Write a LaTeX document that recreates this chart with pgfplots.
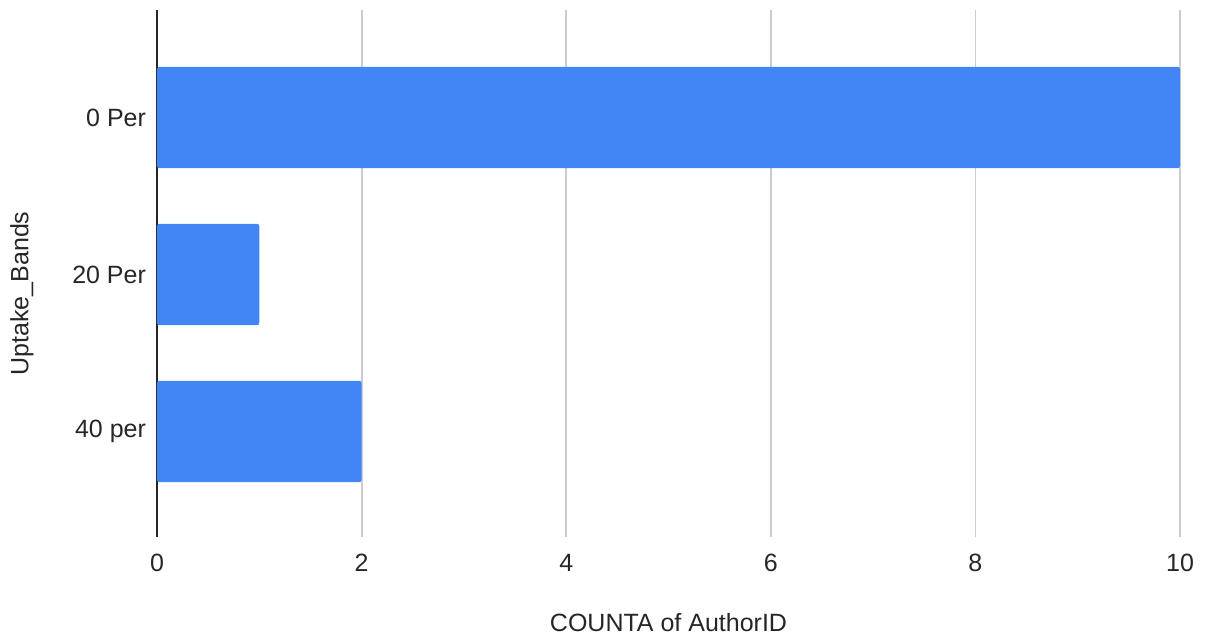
\documentclass[border=0pt]{standalone}
\usepackage{fontspec}
\setmainfont{Liberation Sans}
\usepackage{pgfplots}
\pgfplotsset{compat=1.18}
\definecolor{barblue}{HTML}{4285F4}
\definecolor{gridgray}{HTML}{CCCCCC}
\begin{document}
\begin{tikzpicture}
\path[use as bounding box] (-78.5pt,-50pt) rectangle (524pt,268.5pt);
\begin{axis}[
  scale only axis, width=511.5pt, height=263.5pt,
  xbar, bar width=0.646,
  xmin=0, xmax=10, ymin=-0.685, ymax=2.672,
  y dir=reverse,
  ytick={0,1,2}, yticklabels={0 Per,20 Per,40 per},
  xtick={0,2,4,6,8,10},
  axis x line*=bottom, x axis line style={draw=none},
  axis y line*=left, y axis line style={black!85, line width=0.75pt, -},
  major tick length=0pt,
  xmajorgrids, grid style={gridgray, line width=0.9pt},
  tick label style={font=\fontsize{12.5}{14}\selectfont, text=black!85},
  /pgf/number format/assume math mode=true,
  xticklabel style={yshift=-5pt},
  yticklabel style={xshift=-2pt},
  xlabel={COUNTA of AuthorID},
  ylabel={Uptake\_Bands},
  label style={font=\fontsize{12.5}{14}\selectfont, text=black!85},
  x label style={at={(axis description cs:0.5,0)}, anchor=center, yshift=-43pt},
  y label style={at={([xshift=-67.5pt,yshift=-10pt]axis description cs:0,0.5)}, anchor=center, rotate=0},
]
\addplot[fill=barblue, draw=none, rounded corners=1.2pt] coordinates {(10,0) (1,1) (2,2)};
\end{axis}
\end{tikzpicture}
\end{document}
